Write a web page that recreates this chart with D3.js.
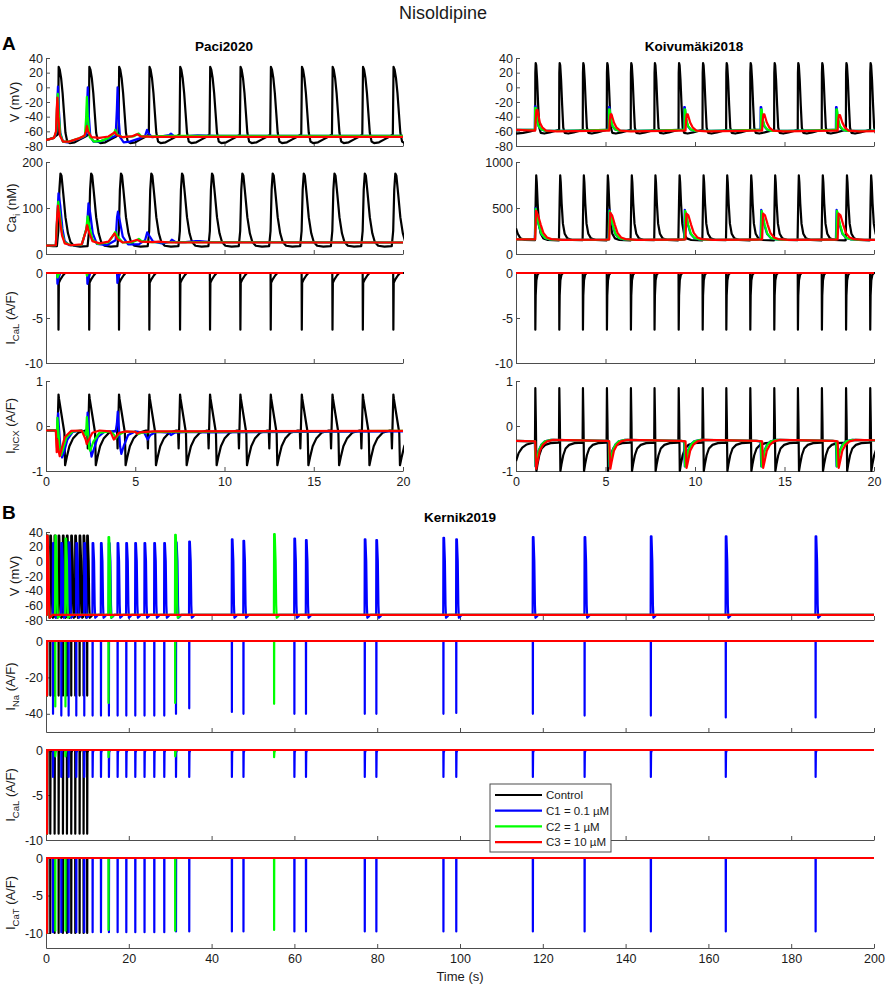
<!DOCTYPE html>
<html>
<head>
<meta charset="utf-8">
<script src="https://cdn.jsdelivr.net/npm/d3@7"></script>
<style>
body { margin: 0; background: #fff; }
text { font-family: "Liberation Sans", Arial, Helvetica, sans-serif; }
</style>
</head>
<body>
<svg id="chart" width="886" height="986"></svg>
<script>
// ---------- legend / conditions ----------
const conditions = ["Control", "C1 = 0.1 µM", "C2 = 1 µM", "C3 = 10 µM"];
const condColors = ["#000000", "#0000ff", "#00ff00", "#ff0000"];

// ---------- Paci2020 (0-20 s) ----------
// control beat times (s), read at the AP peaks
const paciBeats = [0.71, 2.43, 4.10, 5.80, 7.52, 9.20, 10.90, 12.60, 14.34, 16.06, 17.76, 19.47];
// one control beat, [time from peak (s), value]
const paciV_beat = [[-0.04, -64], [0, 28], [0.06, 24], [0.14, 12], [0.22, -8], [0.3, -35], [0.38, -62], [0.48, -74], [0.62, -76], [0.9, -75], [1.2, -71], [1.5, -67], [1.64, -65]];
const paciCa_beat = [[-0.1, 17], [-0.02, 50], [0.04, 140], [0.1, 175], [0.16, 170], [0.26, 130], [0.38, 80], [0.52, 45], [0.66, 26], [0.85, 18], [1.2, 16], [1.6, 17]];
const paciCaL_beat = [[-0.05, 0], [-0.02, 0], [-0.01, -6.3], [0.01, -1.1], [0.1, -0.7], [0.25, -0.25], [0.36, 0], [1.6, 0]];
const paciNCX_beat = [[-0.16, -0.1], [-0.12, -0.12], [-0.09, -0.5], [-0.01, 0.7], [0.02, 0.6], [0.32, -0.15], [0.36, -0.87], [0.45, -0.7], [0.6, -0.45], [0.8, -0.28], [1.1, -0.15], [1.5, -0.1]];
const paciV_start = [[0, -72], [0.4, -69]];
const paciCa_start = [[0, 18], [0.4, 17]];
const paciCaL_start = [[0, 0]];
const paciNCX_start = [[0, -0.1]];

const paciV_C1 = [[0, -72], [0.45, -69], [0.58, -62], [0.63, -20], [0.67, 1], [0.72, -30], [0.8, -62], [0.95, -74], [1.2, -75], [1.6, -72], [2.0, -69], [2.26, -65], [2.3, -25], [2.34, 0], [2.39, -35], [2.48, -66], [2.65, -74], [3.0, -74], [3.5, -70], [3.9, -66], [3.97, -30], [4.01, 0], [4.06, -40], [4.15, -68], [4.35, -75], [4.7, -74], [5.2, -70], [5.55, -66], [5.66, -58], [5.75, -63], [5.95, -68], [6.4, -67], [6.9, -65], [7.0, -63], [7.15, -66], [7.6, -67], [8.5, -65.5], [9.5, -66], [20, -66]];
const paciV_C2 = [[0, -72], [0.45, -69], [0.58, -60], [0.62, -25], [0.66, -9], [0.71, -35], [0.8, -64], [0.95, -74], [1.3, -74], [1.8, -70], [2.18, -66], [2.25, -40], [2.29, -13], [2.34, -40], [2.45, -68], [2.7, -74], [3.1, -73], [3.5, -69], [3.83, -62], [3.88, -58], [3.97, -64], [4.3, -68], [4.9, -67], [5.12, -64], [5.19, -63], [5.35, -67], [6.0, -67], [7, -66], [20, -66]];
const paciV_C3 = [[0, -72], [0.45, -69], [0.56, -60], [0.6, -30], [0.64, -14], [0.69, -40], [0.78, -66], [0.95, -74], [1.3, -74], [1.8, -70], [2.15, -66], [2.24, -60], [2.29, -53], [2.36, -60], [2.55, -68], [3.0, -69], [3.5, -67], [3.8, -62], [3.85, -61], [3.95, -65], [4.3, -68], [4.8, -67], [5.05, -64.5], [5.12, -64], [5.3, -67], [6.0, -67.5], [20, -67.5]];

const paciCa_C1 = [[0, 18], [0.55, 19], [0.63, 80], [0.7, 132], [0.8, 105], [0.92, 55], [1.05, 28], [1.3, 19], [2.0, 19], [2.3, 60], [2.38, 110], [2.48, 88], [2.62, 45], [2.85, 22], [3.4, 19], [3.9, 30], [3.98, 80], [4.03, 92], [4.12, 75], [4.3, 38], [4.6, 21], [5.2, 21], [5.55, 30], [5.67, 47], [5.78, 40], [6.0, 27], [6.5, 23], [6.95, 26], [7.05, 31], [7.25, 26], [7.8, 26], [8.4, 28], [8.6, 28], [9.2, 26], [20, 25]];
const paciCa_C2 = [[0, 18], [0.55, 19], [0.63, 80], [0.69, 114], [0.78, 85], [0.9, 45], [1.05, 25], [1.4, 19], [2.0, 20], [2.26, 55], [2.33, 82], [2.42, 62], [2.6, 32], [2.9, 22], [3.5, 25], [3.8, 42], [3.88, 48], [4.0, 38], [4.3, 25], [4.8, 25], [5.1, 30], [5.2, 33], [5.35, 28], [5.9, 26], [20, 25]];
const paciCa_C3 = [[0, 18], [0.55, 19], [0.62, 80], [0.67, 105], [0.77, 75], [0.9, 40], [1.05, 23], [1.4, 19], [2.0, 21], [2.24, 50], [2.3, 63], [2.4, 48], [2.6, 28], [3.0, 23], [3.5, 27], [3.75, 40], [3.84, 45], [3.98, 33], [4.3, 25], [4.8, 27], [5.02, 30], [5.1, 31], [5.3, 27], [6.0, 26], [6.3, 27], [7, 25], [20, 25]];

const paciCaL_C1 = [[0, 0], [0.62, 0], [0.64, -1.2], [0.7, -0.6], [0.8, 0], [2.3, 0], [2.32, -1.2], [2.38, -0.6], [2.48, 0], [3.98, 0], [4.0, -1.1], [4.06, -0.5], [4.16, 0], [20, 0]];
const paciCaL_C2 = [[0, 0], [0.62, 0], [0.64, -0.5], [0.7, -0.2], [0.78, 0], [2.27, 0], [2.29, -0.3], [2.35, 0], [20, 0]];
const paciCaL_C3 = [[0, 0], [20, 0]];

const paciNCX_C1 = [[0, -0.1], [0.55, -0.1], [0.6, -0.3], [0.64, 0.05], [0.68, 0.28], [0.72, 0.0], [0.8, -0.45], [0.9, -0.7], [1.0, -0.6], [1.2, -0.3], [1.5, -0.13], [2.0, -0.1], [2.28, -0.2], [2.33, 0.3], [2.38, 0.1], [2.45, -0.4], [2.55, -0.68], [2.65, -0.55], [2.9, -0.25], [3.3, -0.12], [3.9, -0.12], [3.97, 0.05], [4.02, 0.32], [4.08, 0.0], [4.15, -0.45], [4.22, -0.62], [4.35, -0.45], [4.6, -0.2], [5.0, -0.12], [5.5, -0.15], [5.7, -0.3], [5.85, -0.2], [6.2, -0.13], [6.9, -0.15], [7.0, -0.2], [7.2, -0.15], [8, -0.13], [9, -0.14], [20, -0.12]];
const paciNCX_C2 = [[0, -0.1], [0.55, -0.1], [0.6, -0.25], [0.64, 0.18], [0.69, -0.1], [0.78, -0.55], [0.85, -0.65], [0.95, -0.52], [1.15, -0.25], [1.5, -0.12], [2.0, -0.1], [2.24, -0.2], [2.29, 0.2], [2.35, -0.1], [2.42, -0.5], [2.48, -0.55], [2.65, -0.35], [3.0, -0.15], [3.6, -0.12], [3.83, -0.2], [3.9, -0.28], [4.05, -0.2], [4.4, -0.13], [5.0, -0.13], [5.18, -0.18], [5.35, -0.15], [6, -0.13], [20, -0.11]];
const paciNCX_C3 = [[0, -0.1], [0.55, -0.1], [0.6, -0.58], [0.63, -0.3], [0.68, -0.5], [0.77, -0.67], [0.88, -0.5], [1.05, -0.25], [1.4, -0.11], [2.0, -0.1], [2.22, -0.3], [2.28, -0.4], [2.4, -0.3], [2.6, -0.15], [3.0, -0.1], [3.6, -0.12], [3.8, -0.3], [3.9, -0.25], [4.1, -0.15], [4.5, -0.12], [5.0, -0.13], [5.1, -0.17], [5.25, -0.14], [6, -0.12], [20, -0.11]];

// ---------- Koivumäki2018 (0-20 s) ----------
const koivBeats = [1.08, 2.42, 3.74, 5.08, 6.42, 7.74, 9.09, 10.43, 11.75, 13.09, 14.43, 15.75, 17.09, 18.44, 19.79];
const koivV_beat = [[-0.01, -58], [0, 20], [0.02, 33], [0.05, 30], [0.1, 10], [0.16, -25], [0.22, -55], [0.3, -62], [0.5, -63], [0.8, -61.5], [1.1, -59.5], [1.32, -58]];
const koivCa_beat = [[-0.02, 150], [0.02, 600], [0.05, 855], [0.08, 780], [0.13, 550], [0.2, 330], [0.3, 220], [0.45, 170], [0.7, 152], [1.31, 148]];
const koivCaL_beat = [[-0.01, 0], [0, -6.3], [0.02, -2.5], [0.06, -0.8], [0.12, -0.2], [0.2, 0], [1.3, 0]];
const koivNCX_beat = [[-0.02, -0.37], [0, 0.84], [0.03, 0.1], [0.06, -1.0], [0.12, -0.85], [0.22, -0.65], [0.35, -0.5], [0.55, -0.42], [0.85, -0.38], [1.3, -0.37]];
const koivV_start = [[0, -63], [0.4, -62], [0.8, -60]];
const koivCa_start = [[0, 280], [0.1, 220], [0.25, 170], [0.5, 152]];
const koivCaL_start = [[0, 0]];
const koivNCX_start = [[0, -0.78], [0.15, -0.6], [0.35, -0.48], [0.6, -0.41], [0.95, -0.37]];

// drug beats, one list per concentration (C1, C2, C3)
const koivDrugBeats = [
  [1.06, 5.19, 9.40, 13.67, 17.88],
  [1.07, 5.20, 9.42, 13.69, 17.90],
  [1.08, 5.22, 9.48, 13.76, 17.98]
];
const koivDrugV = [[-26, -27, -27, -27, -27], [-28, -30, -30, -30, -30], [-31, -37, -37, -37, -38]];
const koivDrugCa = [[500, 480, 480, 480, 480], [490, 470, 470, 470, 470], [470, 450, 440, 440, 440]];
const koivDrugNCX = [[-0.9, -0.9, -0.9, -0.9, -0.9], [-0.9, -0.9, -0.9, -0.9, -0.9], [-0.95, -0.95, -0.93, -0.93, -0.93]];
// drug beat shapes, null = the beat's own peak value
const koivDrugV_beat = [[-0.01, -58], [0, null], [0.03, null], [0.1, -44], [0.2, -53], [0.35, -57.5], [0.6, -59.5], [1.5, -59.5], [3, -58.5], [4, -58]];
const koivDrugV_beatC3 = [[-0.01, -59], [0.02, -45], [0.06, null], [0.12, null], [0.25, -48], [0.4, -55], [0.6, -59], [1.2, -60], [3, -59.5], [4, -59]];
const koivDrugCa_beat = [[-0.01, 158], [0.03, null], [0.1, 420], [0.2, 320], [0.35, 220], [0.55, 175], [0.8, 160], [1.5, 153], [4, 157]];
const koivDrugCa_beatC3 = [[-0.01, 158], [0.04, null], [0.15, 420], [0.3, 320], [0.45, 230], [0.65, 180], [0.9, 162], [1.5, 153], [4, 157]];
const koivDrugNCX_beat = [[-0.01, -0.34], [0.03, null], [0.08, -0.8], [0.2, -0.55], [0.35, -0.42], [0.55, -0.34], [0.9, -0.31], [4, -0.33]];
const koivDrugNCX_beatC3 = [[-0.01, -0.34], [0.05, null], [0.12, -0.8], [0.25, -0.55], [0.42, -0.42], [0.65, -0.34], [1.0, -0.31], [4, -0.33]];
const koivDrugV_start = [[0, -58]];
const koivDrugCa_start = [[0, 158]];
const koivDrugNCX_start = [[0, -0.33]];

// ---------- Kernik2019 (0-200 s) ----------
const kerBeatsCtrl = [0.25, 1.04, 2.08, 3.05, 4.09, 5.06, 6.1, 7.07, 8.12, 9.08, 9.95];
const kerBeatsC1 = [0.25, 1.7, 3.7, 5.47, 7.32, 9.25, 11.26, 13.28, 15.2, 17.3, 19.4, 21.57, 23.8, 26.16, 28.57, 31.4, 34.6, 44.9, 47.7, 60.0, 62.8, 77.0, 79.8, 96.0, 99.1, 117.6, 130.1, 146.1, 164.2, 185.9];
const kerBeatsC2 = [0.25, 2.25, 4.7, 15.1, 31.2, 55.1];
const kerBeatsC3 = [0.25];

const kerV_C1 = [35, 25, 25, 26, 25, 25, 25, 25, 25, 25, 25, 25, 25, 25, 25, 26, 27, 30, 28, 31, 29, 30, 29, 32, 30, 33, 33, 34, 34, 34];
const kerNa_C1 = [-30, -40, -41, -41, -41, -41, -41, -41, -41, -41, -41, -41, -41, -41, -41, -40, -37, -39, -40, -40, -40, -40, -40, -40, -39.5, -40, -41, -41, -42, -42];
const kerCaL_C1 = [-9.3, -3, -3, -3, -3, -3, -3, -3, -3, -3, -3, -3, -3, -3, -3, -3, -3, -3, -3, -3, -3, -3, -3, -3, -3, -3, -3, -3, -3, -3];
const kerCaT_C1 = [-10, -9.9, -9.9, -9.9, -9.9, -9.9, -9.9, -9.9, -9.9, -9.9, -9.9, -9.9, -9.9, -9.9, -9.9, -9.8, -9.8, -9.8, -9.8, -9.8, -9.8, -9.8, -9.8, -9.8, -9.8, -9.8, -9.8, -9.8, -9.8, -9.8];
const kerV_C2 = [35, 35, 31, 33, 36, 37];
const kerNa_C2 = [-30, -36, -36, -34, -34, -34.5];
const kerCaL_C2 = [-9.3, -0.7, -0.7, -0.8, -0.7, -0.8];
const kerCaT_C2 = [-10, -9.7, -9.7, -9.6, -9.7, -9.6];
const kerCtrlPeaks = { V: 35, Na: -30, CaL: -9.3, CaT: -10 };

const kerV_beat = [[-0.05, -73], [0, null], [0.15, null], [0.35, 0], [0.5, -60], [0.62, -77], [0.9, -75.5], [1.3, -73]];
const kerNa_beat = [[-0.02, 0], [0, null], [0.02, 0]];
const kerCaL_beat = [[-0.02, 0], [0, null], [0.06, -0.3], [0.25, 0]];
const kerCaT_beat = [[-0.02, 0], [0, null], [0.03, 0]];

// ---------- helpers ----------
function buildTrace(start, beats, beat, peaks, tEnd) {
  const pts = [];
  const firstT = beats.length ? beats[0] + beat[0][0] : Infinity;
  start.forEach(p => { if (p[0] < firstT) pts.push(p); });
  beats.forEach((b, i) => {
    const next = i < beats.length - 1 ? beats[i + 1] + beat[0][0] : Infinity;
    const pk = Array.isArray(peaks) ? peaks[i] : peaks;
    beat.forEach(([dt, v]) => {
      const t = b + dt;
      if (t < next) pts.push([t, v === null ? pk : v]);
    });
  });
  if (tEnd != null) {
    const last = pts[pts.length - 1];
    if (last[0] < tEnd) pts.push([tEnd, last[1]]);
  }
  return pts;
}

const svg = d3.select("#chart");
const defs = svg.append("defs");
let clipCount = 0;
const axisColor = "#4d4d4d";

function yLabel(cx, cy, main, sub, tail) {
  const t = svg.append("text")
    .attr("transform", `translate(${cx},${cy}) rotate(-90)`)
    .attr("text-anchor", "middle")
    .attr("font-size", 13)
    .attr("fill", "#1a1a1a");
  t.append("tspan").text(main);
  if (sub) {
    t.append("tspan").attr("font-size", 9.5).attr("dy", 4).text(sub);
    t.append("tspan").attr("dy", -4).text(tail);
  } else {
    t.append("tspan").text(tail);
  }
}

function panel(p) {
  const x = d3.scaleLinear().domain(p.xDomain).range([p.left, p.right]);
  const y = d3.scaleLinear().domain(p.yDomain).range([p.bottom, p.top]);
  const g = svg.append("g");

  const xAxis = d3.axisBottom(x).tickValues(p.xTicks)
    .tickSizeInner(-4).tickSizeOuter(0).tickPadding(6)
    .tickFormat(p.xLabels ? d => String(d) : () => "");
  const yAxis = d3.axisLeft(y).tickValues(p.yTicks)
    .tickSizeInner(-4).tickSizeOuter(0).tickPadding(3)
    .tickFormat(d => String(d));

  const gx = g.append("g").attr("transform", `translate(0,${p.bottom})`).call(xAxis);
  const gy = g.append("g").attr("transform", `translate(${p.left},0)`).call(yAxis);
  [gx, gy].forEach(a => {
    a.attr("font-family", null).attr("font-size", 12.5);
    a.selectAll("path, line").attr("stroke", axisColor);
    a.selectAll("text").attr("fill", "#1a1a1a");
  });

  const id = "clip" + clipCount++;
  defs.append("clipPath").attr("id", id).append("rect")
    .attr("x", p.left).attr("y", p.top - 4)
    .attr("width", p.right - p.left + 1).attr("height", p.bottom - p.top + 8);

  const line = d3.line().x(d => x(d[0])).y(d => y(d[1]));
  g.append("g").attr("clip-path", `url(#${id})`)
    .selectAll("path").data(p.series).join("path")
    .attr("fill", "none")
    .attr("stroke", (d, i) => condColors[i])
    .attr("stroke-width", p.lw)
    .attr("stroke-linejoin", "round")
    .attr("d", d => line(d));

  if (p.label) yLabel(p.labelX, (p.top + p.bottom) / 2, ...p.label);
}

// ---------- layout ----------
const topRows = [
  { top: 58, bottom: 146 },
  { top: 162, bottom: 254 },
  { top: 273, bottom: 363 },
  { top: 381, bottom: 471 }
];
const botRows = [
  { top: 532, bottom: 620 },
  { top: 641, bottom: 732 },
  { top: 750, bottom: 840 },
  { top: 858, bottom: 948 }
];
const topTicksX = [0, 5, 10, 15, 20];
const kerTicksX = d3.range(0, 201, 20);

// ---------- Paci2020 panels ----------
const paciSeries = [
  [buildTrace(paciV_start, paciBeats, paciV_beat, null, 20), paciV_C1, paciV_C2, paciV_C3],
  [buildTrace(paciCa_start, paciBeats, paciCa_beat, null, 20), paciCa_C1, paciCa_C2, paciCa_C3],
  [buildTrace(paciCaL_start, paciBeats, paciCaL_beat, null, 20), paciCaL_C1, paciCaL_C2, paciCaL_C3],
  [buildTrace(paciNCX_start, paciBeats, paciNCX_beat, null, 20), paciNCX_C1, paciNCX_C2, paciNCX_C3]
];
const topYDomains = [[-80, 40], [0, 200], [-10, 0], [-1, 1]];
const topYTicks = [d3.range(-80, 41, 20), [0, 100, 200], [-10, -5, 0], [-1, 0, 1]];
const topLabels = [["V", "", " (mV)"], ["Ca", "i", " (nM)"], ["I", "CaL", " (A/F)"], ["I", "NCX", " (A/F)"]];
const topLabelX = [19, 16, 14.5, 14.5];

topRows.forEach((r, i) => {
  panel({
    left: 46, right: 403, top: r.top, bottom: r.bottom,
    xDomain: [0, 20], yDomain: topYDomains[i],
    xTicks: topTicksX, yTicks: topYTicks[i], xLabels: i === 3,
    series: paciSeries[i], lw: 2.2,
    label: topLabels[i], labelX: topLabelX[i]
  });
});

// ---------- Koivumäki2018 panels ----------
const koivSeries = [
  [buildTrace(koivV_start, koivBeats, koivV_beat, null, 20)].concat(
    [0, 1, 2].map(c => buildTrace(koivDrugV_start, koivDrugBeats[c], c === 2 ? koivDrugV_beatC3 : koivDrugV_beat, koivDrugV[c], 20))),
  [buildTrace(koivCa_start, koivBeats, koivCa_beat, null, 20)].concat(
    [0, 1, 2].map(c => buildTrace(koivDrugCa_start, koivDrugBeats[c], c === 2 ? koivDrugCa_beatC3 : koivDrugCa_beat, koivDrugCa[c], 20))),
  [buildTrace(koivCaL_start, koivBeats, koivCaL_beat, null, 20), [[0, 0], [20, 0]], [[0, 0], [20, 0]], [[0, 0], [20, 0]]],
  [buildTrace(koivNCX_start, koivBeats, koivNCX_beat, null, 20)].concat(
    [0, 1, 2].map(c => buildTrace(koivDrugNCX_start, koivDrugBeats[c], c === 2 ? koivDrugNCX_beatC3 : koivDrugNCX_beat, koivDrugNCX[c], 20)))
];
const koivYDomains = [[-80, 40], [0, 1000], [-10, 0], [-1, 1]];
const koivYTicks = [d3.range(-80, 41, 20), [0, 500, 1000], [-10, -5, 0], [-1, 0, 1]];

topRows.forEach((r, i) => {
  panel({
    left: 516, right: 874, top: r.top, bottom: r.bottom,
    xDomain: [0, 20], yDomain: koivYDomains[i],
    xTicks: topTicksX, yTicks: koivYTicks[i], xLabels: i === 3,
    series: koivSeries[i], lw: 2.2
  });
});

// ---------- Kernik2019 panels ----------
const kerSeries = [
  [buildTrace([[0, -73]], kerBeatsCtrl, kerV_beat, kerCtrlPeaks.V, null),
   buildTrace([[0, -73]], kerBeatsC1, kerV_beat, kerV_C1, 200),
   buildTrace([[0, -73]], kerBeatsC2, kerV_beat, kerV_C2, 200),
   buildTrace([[0, -73]], kerBeatsC3, kerV_beat, kerCtrlPeaks.V, 200)],
  [buildTrace([[0, 0]], kerBeatsCtrl, kerNa_beat, kerCtrlPeaks.Na, null),
   buildTrace([[0, 0]], kerBeatsC1, kerNa_beat, kerNa_C1, 200),
   buildTrace([[0, 0]], kerBeatsC2, kerNa_beat, kerNa_C2, 200),
   buildTrace([[0, 0]], kerBeatsC3, kerNa_beat, kerCtrlPeaks.Na, 200)],
  [buildTrace([[0, 0]], kerBeatsCtrl, kerCaL_beat, kerCtrlPeaks.CaL, null),
   buildTrace([[0, 0]], kerBeatsC1, kerCaL_beat, kerCaL_C1, 200),
   buildTrace([[0, 0]], kerBeatsC2, kerCaL_beat, kerCaL_C2, 200),
   buildTrace([[0, 0]], kerBeatsC3, kerCaL_beat, kerCtrlPeaks.CaL, 200)],
  [buildTrace([[0, 0]], kerBeatsCtrl, kerCaT_beat, kerCtrlPeaks.CaT, null),
   buildTrace([[0, 0]], kerBeatsC1, kerCaT_beat, kerCaT_C1, 200),
   buildTrace([[0, 0]], kerBeatsC2, kerCaT_beat, kerCaT_C2, 200),
   buildTrace([[0, 0]], kerBeatsC3, kerCaT_beat, kerCtrlPeaks.CaT, 200)]
];
const kerYDomains = [[-80, 40], [-50, 0], [-10, 0], [-12, 0]];
const kerYTicks = [d3.range(-80, 41, 20), [-40, -20, 0], [-10, -5, 0], [-10, -5, 0]];
const kerLabels = [["V", "", " (mV)"], ["I", "Na", " (A/F)"], ["I", "CaL", " (A/F)"], ["I", "CaT", " (A/F)"]];
const kerLabelX = [19, 14.5, 14.5, 14.5];

botRows.forEach((r, i) => {
  panel({
    left: 46, right: 874, top: r.top, bottom: r.bottom,
    xDomain: [0, 200], yDomain: kerYDomains[i],
    xTicks: kerTicksX, yTicks: kerYTicks[i], xLabels: i === 3,
    series: kerSeries[i], lw: 2.2,
    label: kerLabels[i], labelX: kerLabelX[i]
  });
});

// ---------- titles ----------
svg.append("text").attr("x", 443).attr("y", 19).attr("text-anchor", "middle")
  .attr("font-size", 18).attr("fill", "#1a1a1a").text("Nisoldipine");
svg.append("text").attr("x", 2).attr("y", 50).attr("font-size", 19).attr("font-weight", "bold").text("A");
svg.append("text").attr("x", 2).attr("y", 519).attr("font-size", 19).attr("font-weight", "bold").text("B");
svg.append("text").attr("x", 224).attr("y", 51).attr("text-anchor", "middle")
  .attr("font-size", 13.5).attr("font-weight", "bold").text("Paci2020");
svg.append("text").attr("x", 694).attr("y", 51).attr("text-anchor", "middle")
  .attr("font-size", 13.5).attr("font-weight", "bold").text("Koivumäki2018");
svg.append("text").attr("x", 460).attr("y", 522).attr("text-anchor", "middle")
  .attr("font-size", 13.5).attr("font-weight", "bold").text("Kernik2019");
svg.append("text").attr("x", 460).attr("y", 981).attr("text-anchor", "middle")
  .attr("font-size", 13).attr("fill", "#1a1a1a").text("Time (s)");

// ---------- legend ----------
const legend = svg.append("g").attr("transform", "translate(490,784)");
legend.append("rect").attr("width", 121).attr("height", 68)
  .attr("fill", "#fff").attr("stroke", axisColor).attr("stroke-width", 1);
legend.selectAll("g.item").data(conditions).join("g").attr("class", "item")
  .attr("transform", (d, i) => `translate(0,${11 + i * 15.7})`)
  .each(function (d, i) {
    const it = d3.select(this);
    it.append("line").attr("x1", 5).attr("x2", 52).attr("stroke", condColors[i]).attr("stroke-width", 2.2);
    it.append("text").attr("x", 56).attr("y", 4.3).attr("font-size", 11.5).attr("fill", "#1a1a1a").text(d);
  });
</script>
</body>
</html>
